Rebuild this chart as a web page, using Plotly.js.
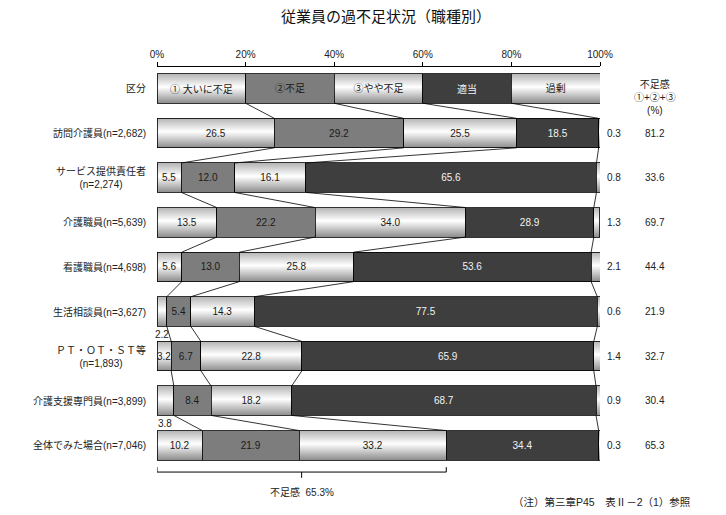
<!DOCTYPE html>
<html>
<head>
<meta charset="utf-8">
<script src="https://cdn.plot.ly/plotly-3.0.1.min.js"></script>
<style>
  body { margin: 0; background: #fff; }
  #myDiv { width: 726px; height: 515px; }
</style>
</head>
<body>
<svg width="0" height="0" style="position:absolute">
  <defs>
    <linearGradient id="lightGrad" x1="0" y1="0" x2="0" y2="1">
      <stop offset="0%" stop-color="#b4b4b4"/>
      <stop offset="45%" stop-color="#ffffff"/>
      <stop offset="100%" stop-color="#8c8c8c"/>
    </linearGradient>
  </defs>
</svg>
<div id="myDiv"></div>
<script>
var myPlot = document.getElementById('myDiv');

//  ======== DATA ========
var categories = ['区分', '訪問介護員(n=2,682)', 'サービス提供責任者<br>(n=2,274)', '介護職員(n=5,639)',
  '看護職員(n=4,698)', '生活相談員(n=3,627)', 'ＰＴ・ＯＴ・ＳＴ等<br>(n=1,893)',
  '介護支援専門員(n=3,899)', '全体でみた場合(n=7,046)'];
var seriesNames = ['① 大いに不足', '②不足', '③やや不足', '適当', '過剰'];
var greatlyShort  = [26.5, 5.5, 13.5, 5.6, 2.2, 3.2, 3.8, 10.2];
var short         = [29.2, 12.0, 22.2, 13.0, 5.4, 6.7, 8.4, 21.9];
var slightlyShort = [25.5, 16.1, 34.0, 25.8, 14.3, 22.8, 18.2, 33.2];
var adequate      = [18.5, 65.6, 28.9, 53.6, 77.5, 65.9, 68.7, 34.4];
var excess        = [0.3, 0.8, 1.3, 2.1, 0.6, 1.4, 0.9, 0.3];
var headerShare   = 20;
// rows (1-based, header = 0) whose ① value is written under the bar
var labelBelow    = [5, 7];

var series = [greatlyShort, short, slightlyShort, adequate, excess];
var fills = ['#d8d8d8', '#7d7d7d', '#d8d8d8', '#3e3e3e', '#d8d8d8'];
var textColors = ['#1a1a1a', '#1a1a1a', '#1a1a1a', '#f2f2f2', '#1a1a1a'];
var FONT = '"Liberation Sans", Arial, "Noto Sans CJK JP", sans-serif';
var BAR_W = 0.66;

var ypos = categories.map(function(c, i){ return i; });

//  ======== TRACES ========
var plotData = [];
series.forEach(function(vals, k){
  var xs = [headerShare].concat(vals);
  var txt = [seriesNames[k]].concat(vals.map(function(v, r){
    if (k == 4) return '';
    if (k == 0 && labelBelow.indexOf(r + 1) >= 0) return '';
    return v.toFixed(1);
  }));
  plotData.push({
    type: 'bar',
    orientation: 'h',
    x: xs,
    y: ypos,
    width: BAR_W,
    text: txt,
    textposition: 'inside',
    insidetextanchor: 'middle',
    textangle: 0,
    constraintext: 'none',
    textfont: {family: FONT, size: 10, color: textColors[k]},
    marker: {color: fills[k], line: {color: '#000', width: 0.8}},
    hoverinfo: 'skip',
    showlegend: false
  });
});

// connector lines between segment boundaries of neighbouring bars
function cumRow(r) {
  var out = [], s = 0;
  for (var k = 0; k < 4; k++) {
    s += (r == 0) ? headerShare : series[k][r - 1];
    out.push(s);
  }
  return out;
}
var lx = [], ly = [];
for (var r = 0; r < categories.length - 1; r++) {
  var a = cumRow(r), b = cumRow(r + 1);
  for (var k = 0; k < 4; k++) {
    lx.push(a[k], b[k], null);
    ly.push(r + BAR_W / 2, r + 1 - BAR_W / 2, null);
  }
}
plotData.push({
  type: 'scatter', mode: 'lines', x: lx, y: ly,
  line: {color: '#000', width: 0.8},
  hoverinfo: 'skip', showlegend: false
});

//  ======== ANNOTATIONS ========
var annotations = [];
categories.forEach(function(c, i){
  annotations.push({
    xref: 'paper', yref: 'y', x: -0.02, y: i, xanchor: 'right', align: 'center',
    text: c, showarrow: false, font: {family: FONT, size: 10, color: '#222'}
  });
  if (i == 0) return;
  annotations.push({
    xref: 'paper', yref: 'y', x: 1.011, y: i, xanchor: 'left',
    text: excess[i - 1].toFixed(1), showarrow: false, font: {family: FONT, size: 10, color: '#222'}
  });
  var lack = greatlyShort[i - 1] + short[i - 1] + slightlyShort[i - 1];
  annotations.push({
    xref: 'paper', yref: 'y', x: 1.124, y: i, xanchor: 'center',
    text: lack.toFixed(1), showarrow: false, font: {family: FONT, size: 10, color: '#222'}
  });
});
labelBelow.forEach(function(r){
  annotations.push({
    xref: 'x', yref: 'y', x: greatlyShort[r - 1] / 2, y: r + 0.34, xanchor: 'center', yanchor: 'top',
    text: greatlyShort[r - 1].toFixed(1), showarrow: false, font: {family: FONT, size: 10, color: '#222'}
  });
});
annotations.push({
  xref: 'paper', yref: 'y', x: 1.124, y: 0.2, xanchor: 'center', align: 'center',
  text: '不足感<br>①+②+③<br>(%)', showarrow: false, font: {family: FONT, size: 10, color: '#222'}
});

var lastRow = categories.length - 1;
var totalLack = greatlyShort[lastRow - 1] + short[lastRow - 1] + slightlyShort[lastRow - 1];
annotations.push({
  xref: 'x', yref: 'paper', x: totalLack / 2, y: -0.03, xanchor: 'center', yanchor: 'middle',
  text: '不足感  ' + totalLack.toFixed(1) + '%', showarrow: false, font: {family: FONT, size: 10, color: '#222'}
});
annotations.push({
  xref: 'paper', yref: 'paper', x: 1.21, y: -0.054, xanchor: 'right', yanchor: 'middle',
  text: '（注）第三章P45　表Ⅱ－2（1）参照', showarrow: false, font: {family: FONT, size: 10.5, color: '#222'}
});

// bracket under the bottom bar
var bY = 8.6;
var shapes = [
  {type: 'line', xref: 'x', yref: 'y', x0: 0, x1: totalLack, y0: bY, y1: bY, line: {color: '#000', width: 1}},
  {type: 'line', xref: 'x', yref: 'y', x0: 0, x1: 0, y0: bY, y1: bY - 0.11, line: {color: '#000', width: 1}},
  {type: 'line', xref: 'x', yref: 'y', x0: totalLack, x1: totalLack, y0: bY, y1: bY - 0.11, line: {color: '#000', width: 1}},
  {type: 'line', xref: 'x', yref: 'y', x0: totalLack / 2, x1: totalLack / 2, y0: bY, y1: bY + 0.13, line: {color: '#000', width: 1}}
];

//  ======== PLOTLY ========
var layout = {
  width: 726,
  height: 515,
  barmode: 'stack',
  title: {
    text: '従業員の過不足状況（職種別）',
    x: 0.517, xref: 'paper', y: 0.967, yanchor: 'middle',
    font: {family: '"Noto Sans CJK JP", sans-serif', size: 15, color: '#111'}
  },
  xaxis: {
    side: 'top',
    range: [0, 100],
    tickvals: [0, 20, 40, 60, 80, 100],
    ticktext: ['0%', '20%', '40%', '60%', '80%', '100%'],
    tickfont: {family: FONT, size: 10, color: '#222'},
    showline: true, linecolor: '#000', linewidth: 1,
    ticks: 'outside', ticklen: 4, tickcolor: '#000',
    showgrid: false, zeroline: false, fixedrange: true
  },
  yaxis: {
    range: [8.778, -0.482],
    showticklabels: false,
    showgrid: false, zeroline: false, showline: false, fixedrange: true
  },
  margin: {l: 157, r: 126, t: 67, b: 35},
  annotations: annotations,
  shapes: shapes,
  hovermode: false,
  plot_bgcolor: '#fff',
  paper_bgcolor: '#fff'
};

var config = {displayModeBar: false, staticPlot: true};

function paintGradient() {
  var traces = document.querySelectorAll('#myDiv .barlayer .trace');
  [0, 2, 4].forEach(function(k){
    if (!traces[k]) return;
    traces[k].querySelectorAll('path').forEach(function(p){
      p.style.fill = 'url(#lightGrad)';
    });
  });
}

Plotly.newPlot('myDiv', plotData, layout, config).then(paintGradient);
myPlot.on('plotly_afterplot', paintGradient);
</script>
</body>
</html>
